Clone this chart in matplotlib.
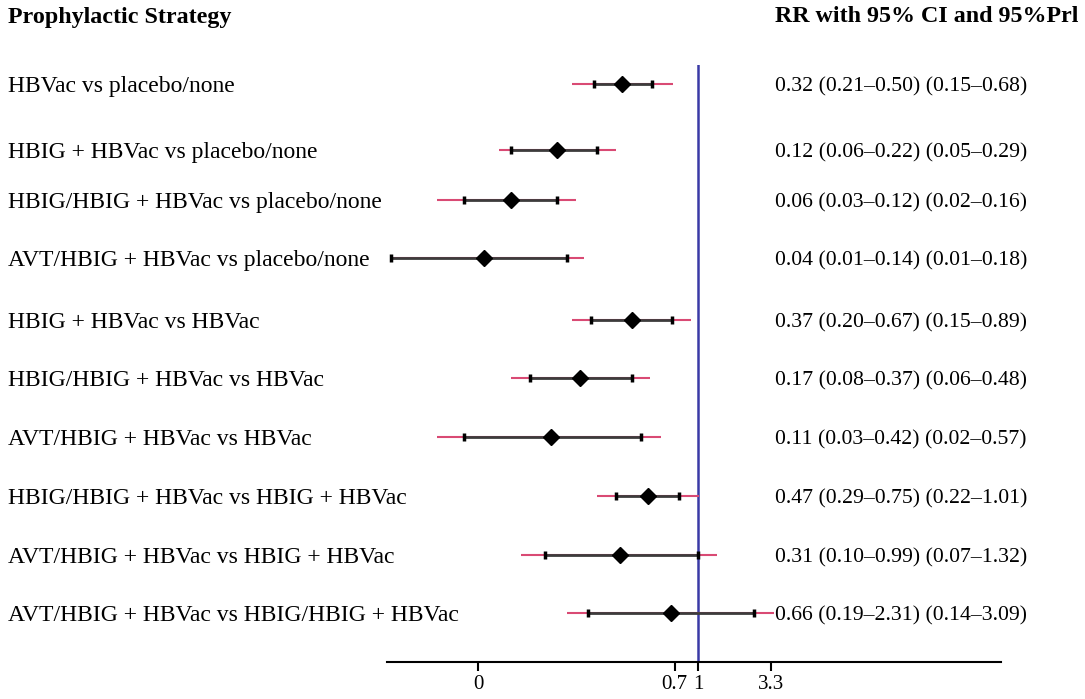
import matplotlib.pyplot as plt
from matplotlib import transforms

# Forest plot data (RR, 95% CI, 95% PrI)
labels = [
    "HBVac vs placebo/none",
    "HBIG + HBVac vs placebo/none",
    "HBIG/HBIG + HBVac vs placebo/none",
    "AVT/HBIG + HBVac vs placebo/none",
    "HBIG + HBVac vs HBVac",
    "HBIG/HBIG + HBVac vs HBVac",
    "AVT/HBIG + HBVac vs HBVac",
    "HBIG/HBIG + HBVac vs HBIG + HBVac",
    "AVT/HBIG + HBVac vs HBIG + HBVac",
    "AVT/HBIG + HBVac vs HBIG/HBIG + HBVac",
]
rr = [0.32, 0.12, 0.06, 0.04, 0.37, 0.17, 0.11, 0.47, 0.31, 0.66]
ci_lo = [0.21, 0.06, 0.03, 0.01, 0.20, 0.08, 0.03, 0.29, 0.10, 0.19]
ci_hi = [0.50, 0.22, 0.12, 0.14, 0.67, 0.37, 0.42, 0.75, 0.99, 2.31]
pi_lo = [0.15, 0.05, 0.02, 0.01, 0.15, 0.06, 0.02, 0.22, 0.07, 0.14]
pi_hi = [0.68, 0.29, 0.16, 0.18, 0.89, 0.48, 0.57, 1.01, 1.32, 3.09]

# row positions (top to bottom, rows are not evenly spaced in the original)
row_y = [84, 150, 200, 258, 320, 378, 437, 496, 555, 613]

tick_vals = [0.037, 0.7, 1, 2.96]
tick_labels = ["0", "0.7", "1", "3.3"]

W, H = 1085, 699
fig = plt.figure(figsize=(W / 100, H / 100), dpi=100)
ax = fig.add_axes([387 / W, 1 - 661.5 / H, (1001 - 387) / W, (661.5 - 65) / H])
ax.set_xscale("log")
ax.set_xlim(0.0094, 93)
ax.set_ylim(661.5, 65)

serif = ["Liberation Serif", "DejaVu Serif"]
red = "#d94a74"
dark = "#3c3c3c"

for i in range(len(rr)):
    y = row_y[i]
    ax.plot([pi_lo[i], pi_hi[i]], [y, y], color=red, lw=1.5, solid_capstyle="butt", zorder=2)
    ax.plot([ci_lo[i], ci_hi[i]], [y, y], color=dark, lw=2.0, solid_capstyle="butt", zorder=3)
    ax.plot([ci_lo[i], ci_hi[i]], [y, y], ls="none", marker="|", ms=6, mew=2.5,
            color="black", zorder=4)
    ax.plot(rr[i], y, marker="D", ms=7.8, color="black", zorder=5)

ax.axvline(1, color="#3a3aa6", lw=1.8, zorder=1)

for s in ["top", "left", "right"]:
    ax.spines[s].set_visible(False)
ax.spines["bottom"].set_linewidth(1.5)
ax.set_yticks([])
ax.set_xticks(tick_vals)
ax.set_xticklabels(tick_labels, fontfamily=serif, fontsize=15)
ax.minorticks_off()
ax.tick_params(axis="x", length=6.5, width=1.5, pad=3)

# texts: x in figure coords, y in data coords
trans = transforms.blended_transform_factory(fig.transFigure, ax.transData)
for i in range(len(rr)):
    ax.text(8 / W, row_y[i], labels[i], transform=trans, ha="left", va="center_baseline",
            fontfamily=serif, fontsize=17, clip_on=False)
    txt = f"{rr[i]:.2f} ({ci_lo[i]:.2f}\u2013{ci_hi[i]:.2f}) ({pi_lo[i]:.2f}\u2013{pi_hi[i]:.2f})"
    ax.text(775 / W, row_y[i], txt, transform=trans, ha="left", va="center_baseline",
            fontfamily=serif, fontsize=15.7, clip_on=False)

fig.text(8 / W, 1 - 17 / H, "Prophylactic Strategy", ha="left", va="center",
         fontfamily=serif, fontsize=17.3, fontweight="bold")
fig.text(775 / W, 1 - 17 / H, "RR with 95% CI and 95%Prl", ha="left", va="center",
         fontfamily=serif, fontsize=17.3, fontweight="bold")

fig.savefig("out.png", dpi=100)
